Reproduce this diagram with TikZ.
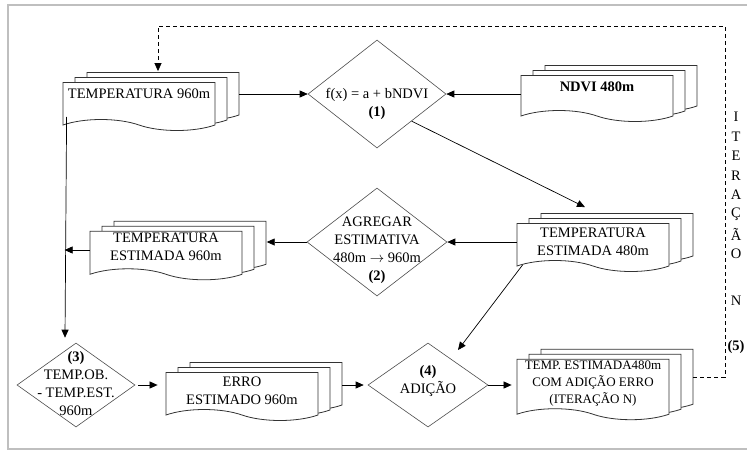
\documentclass[tikz,border=0pt]{standalone}
\usepackage{fontspec}
\setmainfont{Liberation Serif}
\usetikzlibrary{shapes.geometric,shapes.symbols,shadows,arrows.meta}

\tikzset{
  docstack/.style={tape, tape bend top=none, tape bend bottom=out and in,
    tape bend height=11pt, draw=black!80, fill=white, line width=0.8pt,
    align=center, inner sep=2pt, minimum width=152pt, minimum height=48pt,
    double copy shadow={shadow xshift=12pt, shadow yshift=5pt,
      draw=black!80, fill=white, line width=0.8pt}},
  decision/.style={diamond, draw=black!70, line width=0.6pt, inner sep=0pt},
  decisiontxt/.style={align=center, inner sep=0pt},
  arr/.style={-{Triangle[length=8pt,width=7pt]}, line width=0.7pt},
  loopline/.style={dash pattern=on 4pt off 3pt, line width=0.8pt}
}

\begin{document}
\begin{tikzpicture}[x=1pt,y=-1pt,font=\fontsize{14.5}{18}\selectfont]
  \useasboundingbox (0,0) rectangle (747,451);
  % moldura
  \draw[black!25, line width=1.2pt] (760,5) -- (8,5) -- (8,449) -- (760,449);

  % produtos (pilhas de documentos)
  \node[docstack, text depth=14pt] (t960) at (139,101) {TEMPERATURA 960m};
  \node[docstack, text depth=12pt, minimum height=46pt] (ndvi) at (597,93) {\textbf{NDVI 480m}};
  \node[docstack] (te480) at (593,242) {TEMPERATURA\\ESTIMADA 480m};
  \node[docstack, text depth=6pt] (te960) at (166,250) {TEMPERATURA\\ESTIMADA 960m};
  \node[docstack] (erro) at (242,391) {ERRO\\ESTIMADO 960m};
  \node[docstack, minimum height=58pt, font=\fontsize{13}{17}\selectfont]
    (final) at (593,384) {TEMP. ESTIMADA480m\\COM ADIÇÃO ERRO\\(ITERAÇÃO N)};

  % passos (1)-(4)
  \node[decision, minimum width=138pt, minimum height=108pt] (d1) at (377,94) {};
  \node[decisiontxt] (d1txt) at (377,104) {f(x) = a + bNDVI\\\textbf{(1)}};
  \node[decision, minimum width=140pt, minimum height=108pt] (d2) at (377,242) {};
  \node[decisiontxt] (d2txt) at (377,250)
    {AGREGAR\\ESTIMATIVA\\480m $\rightarrow$ 960m\\\textbf{(2)}};
  \node[decision, minimum width=118pt, minimum height=84pt] (d3) at (76,385) {};
  \node[decisiontxt] (d3txt) at (76,384)
    {\textbf{(3)}\\TEMP.OB.\\- TEMP.EST.\\960m};
  \node[decision, minimum width=120pt, minimum height=84pt] (d4) at (428,385) {};
  \node[decisiontxt] (d4txt) at (428,381) {\textbf{(4)}\\ADIÇÃO};

  % iteracao (5)
  \foreach \ch [count=\i] in {I,T,E,R,A,Ç,Ã,O}
    \node[inner sep=0pt] (it\i) at (736,{97.5+19.5*\i}) {\ch};
  \node[inner sep=0pt] (itn) at (736,301) {N};
  \node[inner sep=0pt] (it5) at (736,347) {\textbf{(5)}};

  % ligacoes
  \draw[arr] ([xshift=24pt]t960.east |- d1.west) -- (d1.west);
  \draw[arr] (ndvi.west |- d1.east) -- (d1.east);
  \draw[arr] (d1.south east) -- ([shift={(-8,-16)}]te480.north);
  \draw[arr] (te480.west |- d2.east) -- (d2.east);
  \draw[arr] (d2.west) -- ++(-40,0);
  \draw[arr] ([shift={(4,-3)}]t960.south west) -- ([shift={(-11,-5)}]d3.north);
  \draw[arr] (te960.west) -- ++(-25,0);
  \draw[arr, shorten <=3pt, shorten >=8pt] (d3.east) -- (erro.west |- d3.east);
  \draw[arr, shorten >=4pt] ([shift={(24,-6)}]erro.east) -- (d4.west);
  \draw[arr] ([shift={(6,4)}]te480.south west) -- ([shift={(30,-35)}]d4.center);
  \draw[arr, shorten >=5pt] (d4.east) -- (final.west |- d4.east);
  \coordinate (loop) at (725,26);
  \draw[loopline, arr] ([shift={(24,-7)}]final.east) -| (loop)
    -| ([shift={(19,-11)}]t960.north);
\end{tikzpicture}
\end{document}
